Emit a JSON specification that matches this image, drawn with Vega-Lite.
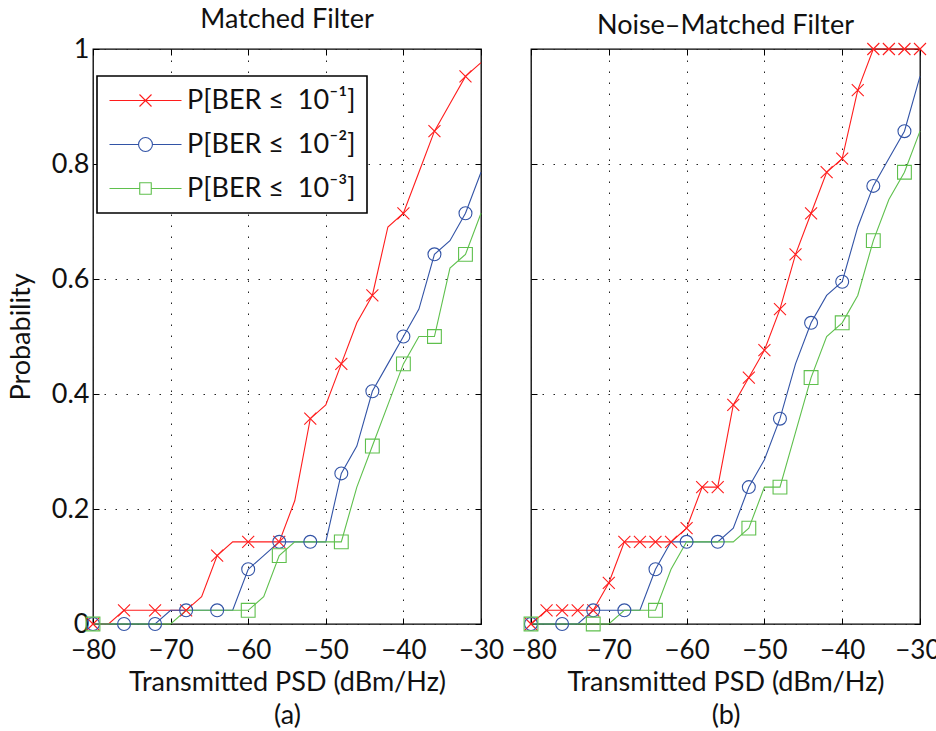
{
  "$schema": "https://vega.github.io/schema/vega-lite/v6.json",
  "background": "white",
  "padding": {"left": 6, "top": 5, "right": 2, "bottom": 3},
  "spacing": 50,
  "bounds": "flush",
  "datasets": {
    "series": [
      {"s": 1, "ber": "P[BER \u2264\u00a0 10\u207b\u00b9]"},
      {"s": 2, "ber": "P[BER \u2264\u00a0 10\u207b\u00b2]"},
      {"s": 3, "ber": "P[BER \u2264\u00a0 10\u207b\u00b3]"}
    ],
    "curves": [
      {"panel":"a","s":1,"psd":-80,"p":0},{"panel":"a","s":1,"psd":-78,"p":0},{"panel":"a","s":1,"psd":-76,"p":0.0238},{"panel":"a","s":1,"psd":-74,"p":0.0238},{"panel":"a","s":1,"psd":-72,"p":0.0238},{"panel":"a","s":1,"psd":-70,"p":0.0238},{"panel":"a","s":1,"psd":-68,"p":0.0238},{"panel":"a","s":1,"psd":-66,"p":0.0476},{"panel":"a","s":1,"psd":-64,"p":0.119},{"panel":"a","s":1,"psd":-62,"p":0.1429},{"panel":"a","s":1,"psd":-60,"p":0.1429},{"panel":"a","s":1,"psd":-58,"p":0.1429},{"panel":"a","s":1,"psd":-56,"p":0.1429},{"panel":"a","s":1,"psd":-54,"p":0.2143},{"panel":"a","s":1,"psd":-52,"p":0.3571},{"panel":"a","s":1,"psd":-50,"p":0.381},{"panel":"a","s":1,"psd":-48,"p":0.4524},{"panel":"a","s":1,"psd":-46,"p":0.5238},{"panel":"a","s":1,"psd":-44,"p":0.5714},{"panel":"a","s":1,"psd":-42,"p":0.6905},{"panel":"a","s":1,"psd":-40,"p":0.7143},{"panel":"a","s":1,"psd":-38,"p":0.7857},{"panel":"a","s":1,"psd":-36,"p":0.8571},{"panel":"a","s":1,"psd":-34,"p":0.9048},{"panel":"a","s":1,"psd":-32,"p":0.9524},{"panel":"a","s":1,"psd":-30,"p":0.9762},
      {"panel":"a","s":2,"psd":-80,"p":0},{"panel":"a","s":2,"psd":-78,"p":0},{"panel":"a","s":2,"psd":-76,"p":0},{"panel":"a","s":2,"psd":-74,"p":0},{"panel":"a","s":2,"psd":-72,"p":0},{"panel":"a","s":2,"psd":-70,"p":0.0238},{"panel":"a","s":2,"psd":-68,"p":0.0238},{"panel":"a","s":2,"psd":-66,"p":0.0238},{"panel":"a","s":2,"psd":-64,"p":0.0238},{"panel":"a","s":2,"psd":-62,"p":0.0238},{"panel":"a","s":2,"psd":-60,"p":0.0952},{"panel":"a","s":2,"psd":-58,"p":0.119},{"panel":"a","s":2,"psd":-56,"p":0.1429},{"panel":"a","s":2,"psd":-54,"p":0.1429},{"panel":"a","s":2,"psd":-52,"p":0.1429},{"panel":"a","s":2,"psd":-50,"p":0.1429},{"panel":"a","s":2,"psd":-48,"p":0.2619},{"panel":"a","s":2,"psd":-46,"p":0.3095},{"panel":"a","s":2,"psd":-44,"p":0.4048},{"panel":"a","s":2,"psd":-42,"p":0.4524},{"panel":"a","s":2,"psd":-40,"p":0.5},{"panel":"a","s":2,"psd":-38,"p":0.5476},{"panel":"a","s":2,"psd":-36,"p":0.6429},{"panel":"a","s":2,"psd":-34,"p":0.6667},{"panel":"a","s":2,"psd":-32,"p":0.7143},{"panel":"a","s":2,"psd":-30,"p":0.7857},
      {"panel":"a","s":3,"psd":-80,"p":0},{"panel":"a","s":3,"psd":-78,"p":0},{"panel":"a","s":3,"psd":-76,"p":0},{"panel":"a","s":3,"psd":-74,"p":0},{"panel":"a","s":3,"psd":-72,"p":0},{"panel":"a","s":3,"psd":-70,"p":0},{"panel":"a","s":3,"psd":-68,"p":0.0238},{"panel":"a","s":3,"psd":-66,"p":0.0238},{"panel":"a","s":3,"psd":-64,"p":0.0238},{"panel":"a","s":3,"psd":-62,"p":0.0238},{"panel":"a","s":3,"psd":-60,"p":0.0238},{"panel":"a","s":3,"psd":-58,"p":0.0476},{"panel":"a","s":3,"psd":-56,"p":0.119},{"panel":"a","s":3,"psd":-54,"p":0.1429},{"panel":"a","s":3,"psd":-52,"p":0.1429},{"panel":"a","s":3,"psd":-50,"p":0.1429},{"panel":"a","s":3,"psd":-48,"p":0.1429},{"panel":"a","s":3,"psd":-46,"p":0.2381},{"panel":"a","s":3,"psd":-44,"p":0.3095},{"panel":"a","s":3,"psd":-42,"p":0.381},{"panel":"a","s":3,"psd":-40,"p":0.4524},{"panel":"a","s":3,"psd":-38,"p":0.5},{"panel":"a","s":3,"psd":-36,"p":0.5},{"panel":"a","s":3,"psd":-34,"p":0.619},{"panel":"a","s":3,"psd":-32,"p":0.6429},{"panel":"a","s":3,"psd":-30,"p":0.7143},
      {"panel":"b","s":1,"psd":-80,"p":0},{"panel":"b","s":1,"psd":-78,"p":0.0238},{"panel":"b","s":1,"psd":-76,"p":0.0238},{"panel":"b","s":1,"psd":-74,"p":0.0238},{"panel":"b","s":1,"psd":-72,"p":0.0238},{"panel":"b","s":1,"psd":-70,"p":0.0714},{"panel":"b","s":1,"psd":-68,"p":0.1429},{"panel":"b","s":1,"psd":-66,"p":0.1429},{"panel":"b","s":1,"psd":-64,"p":0.1429},{"panel":"b","s":1,"psd":-62,"p":0.1429},{"panel":"b","s":1,"psd":-60,"p":0.1667},{"panel":"b","s":1,"psd":-58,"p":0.2381},{"panel":"b","s":1,"psd":-56,"p":0.2381},{"panel":"b","s":1,"psd":-54,"p":0.381},{"panel":"b","s":1,"psd":-52,"p":0.4286},{"panel":"b","s":1,"psd":-50,"p":0.4762},{"panel":"b","s":1,"psd":-48,"p":0.5476},{"panel":"b","s":1,"psd":-46,"p":0.6429},{"panel":"b","s":1,"psd":-44,"p":0.7143},{"panel":"b","s":1,"psd":-42,"p":0.7857},{"panel":"b","s":1,"psd":-40,"p":0.8095},{"panel":"b","s":1,"psd":-38,"p":0.9286},{"panel":"b","s":1,"psd":-36,"p":1},{"panel":"b","s":1,"psd":-34,"p":1},{"panel":"b","s":1,"psd":-32,"p":1},{"panel":"b","s":1,"psd":-30,"p":1},
      {"panel":"b","s":2,"psd":-80,"p":0},{"panel":"b","s":2,"psd":-78,"p":0},{"panel":"b","s":2,"psd":-76,"p":0},{"panel":"b","s":2,"psd":-74,"p":0},{"panel":"b","s":2,"psd":-72,"p":0.0238},{"panel":"b","s":2,"psd":-70,"p":0.0238},{"panel":"b","s":2,"psd":-68,"p":0.0238},{"panel":"b","s":2,"psd":-66,"p":0.0238},{"panel":"b","s":2,"psd":-64,"p":0.0952},{"panel":"b","s":2,"psd":-62,"p":0.1429},{"panel":"b","s":2,"psd":-60,"p":0.1429},{"panel":"b","s":2,"psd":-58,"p":0.1429},{"panel":"b","s":2,"psd":-56,"p":0.1429},{"panel":"b","s":2,"psd":-54,"p":0.1667},{"panel":"b","s":2,"psd":-52,"p":0.2381},{"panel":"b","s":2,"psd":-50,"p":0.2857},{"panel":"b","s":2,"psd":-48,"p":0.3571},{"panel":"b","s":2,"psd":-46,"p":0.4524},{"panel":"b","s":2,"psd":-44,"p":0.5238},{"panel":"b","s":2,"psd":-42,"p":0.5714},{"panel":"b","s":2,"psd":-40,"p":0.5952},{"panel":"b","s":2,"psd":-38,"p":0.6905},{"panel":"b","s":2,"psd":-36,"p":0.7619},{"panel":"b","s":2,"psd":-34,"p":0.8095},{"panel":"b","s":2,"psd":-32,"p":0.8571},{"panel":"b","s":2,"psd":-30,"p":0.9524},
      {"panel":"b","s":3,"psd":-80,"p":0},{"panel":"b","s":3,"psd":-78,"p":0},{"panel":"b","s":3,"psd":-76,"p":0},{"panel":"b","s":3,"psd":-74,"p":0},{"panel":"b","s":3,"psd":-72,"p":0},{"panel":"b","s":3,"psd":-70,"p":0},{"panel":"b","s":3,"psd":-68,"p":0.0238},{"panel":"b","s":3,"psd":-66,"p":0.0238},{"panel":"b","s":3,"psd":-64,"p":0.0238},{"panel":"b","s":3,"psd":-62,"p":0.0952},{"panel":"b","s":3,"psd":-60,"p":0.1429},{"panel":"b","s":3,"psd":-58,"p":0.1429},{"panel":"b","s":3,"psd":-56,"p":0.1429},{"panel":"b","s":3,"psd":-54,"p":0.1429},{"panel":"b","s":3,"psd":-52,"p":0.1667},{"panel":"b","s":3,"psd":-50,"p":0.2381},{"panel":"b","s":3,"psd":-48,"p":0.2381},{"panel":"b","s":3,"psd":-46,"p":0.3333},{"panel":"b","s":3,"psd":-44,"p":0.4286},{"panel":"b","s":3,"psd":-42,"p":0.5},{"panel":"b","s":3,"psd":-40,"p":0.5238},{"panel":"b","s":3,"psd":-38,"p":0.5714},{"panel":"b","s":3,"psd":-36,"p":0.6667},{"panel":"b","s":3,"psd":-34,"p":0.7381},{"panel":"b","s":3,"psd":-32,"p":0.7857},{"panel":"b","s":3,"psd":-30,"p":0.8571}
    ],
    "markers": [
      {"panel":"a","s":1,"psd":-80,"p":0},{"panel":"a","s":1,"psd":-76,"p":0.0238},{"panel":"a","s":1,"psd":-72,"p":0.0238},{"panel":"a","s":1,"psd":-68,"p":0.0238},{"panel":"a","s":1,"psd":-64,"p":0.119},{"panel":"a","s":1,"psd":-60,"p":0.1429},{"panel":"a","s":1,"psd":-56,"p":0.1429},{"panel":"a","s":1,"psd":-52,"p":0.3571},{"panel":"a","s":1,"psd":-48,"p":0.4524},{"panel":"a","s":1,"psd":-44,"p":0.5714},{"panel":"a","s":1,"psd":-40,"p":0.7143},{"panel":"a","s":1,"psd":-36,"p":0.8571},{"panel":"a","s":1,"psd":-32,"p":0.9524},
      {"panel":"a","s":2,"psd":-80,"p":0},{"panel":"a","s":2,"psd":-76,"p":0},{"panel":"a","s":2,"psd":-72,"p":0},{"panel":"a","s":2,"psd":-68,"p":0.0238},{"panel":"a","s":2,"psd":-64,"p":0.0238},{"panel":"a","s":2,"psd":-60,"p":0.0952},{"panel":"a","s":2,"psd":-56,"p":0.1429},{"panel":"a","s":2,"psd":-52,"p":0.1429},{"panel":"a","s":2,"psd":-48,"p":0.2619},{"panel":"a","s":2,"psd":-44,"p":0.4048},{"panel":"a","s":2,"psd":-40,"p":0.5},{"panel":"a","s":2,"psd":-36,"p":0.6429},{"panel":"a","s":2,"psd":-32,"p":0.7143},
      {"panel":"a","s":3,"psd":-80,"p":0},{"panel":"a","s":3,"psd":-60,"p":0.0238},{"panel":"a","s":3,"psd":-56,"p":0.119},{"panel":"a","s":3,"psd":-48,"p":0.1429},{"panel":"a","s":3,"psd":-44,"p":0.3095},{"panel":"a","s":3,"psd":-40,"p":0.4524},{"panel":"a","s":3,"psd":-36,"p":0.5},{"panel":"a","s":3,"psd":-32,"p":0.6429},
      {"panel":"b","s":1,"psd":-80,"p":0},{"panel":"b","s":1,"psd":-78,"p":0.0238},{"panel":"b","s":1,"psd":-76,"p":0.0238},{"panel":"b","s":1,"psd":-74,"p":0.0238},{"panel":"b","s":1,"psd":-72,"p":0.0238},{"panel":"b","s":1,"psd":-70,"p":0.0714},{"panel":"b","s":1,"psd":-68,"p":0.1429},{"panel":"b","s":1,"psd":-66,"p":0.1429},{"panel":"b","s":1,"psd":-64,"p":0.1429},{"panel":"b","s":1,"psd":-62,"p":0.1429},{"panel":"b","s":1,"psd":-60,"p":0.1667},{"panel":"b","s":1,"psd":-58,"p":0.2381},{"panel":"b","s":1,"psd":-56,"p":0.2381},{"panel":"b","s":1,"psd":-54,"p":0.381},{"panel":"b","s":1,"psd":-52,"p":0.4286},{"panel":"b","s":1,"psd":-50,"p":0.4762},{"panel":"b","s":1,"psd":-48,"p":0.5476},{"panel":"b","s":1,"psd":-46,"p":0.6429},{"panel":"b","s":1,"psd":-44,"p":0.7143},{"panel":"b","s":1,"psd":-42,"p":0.7857},{"panel":"b","s":1,"psd":-40,"p":0.8095},{"panel":"b","s":1,"psd":-38,"p":0.9286},{"panel":"b","s":1,"psd":-36,"p":1},{"panel":"b","s":1,"psd":-34,"p":1},{"panel":"b","s":1,"psd":-32,"p":1},{"panel":"b","s":1,"psd":-30,"p":1},
      {"panel":"b","s":2,"psd":-80,"p":0},{"panel":"b","s":2,"psd":-76,"p":0},{"panel":"b","s":2,"psd":-72,"p":0.0238},{"panel":"b","s":2,"psd":-68,"p":0.0238},{"panel":"b","s":2,"psd":-64,"p":0.0952},{"panel":"b","s":2,"psd":-60,"p":0.1429},{"panel":"b","s":2,"psd":-56,"p":0.1429},{"panel":"b","s":2,"psd":-52,"p":0.2381},{"panel":"b","s":2,"psd":-48,"p":0.3571},{"panel":"b","s":2,"psd":-44,"p":0.5238},{"panel":"b","s":2,"psd":-40,"p":0.5952},{"panel":"b","s":2,"psd":-36,"p":0.7619},{"panel":"b","s":2,"psd":-32,"p":0.8571},
      {"panel":"b","s":3,"psd":-80,"p":0},{"panel":"b","s":3,"psd":-72,"p":0},{"panel":"b","s":3,"psd":-64,"p":0.0238},{"panel":"b","s":3,"psd":-52,"p":0.1667},{"panel":"b","s":3,"psd":-48,"p":0.2381},{"panel":"b","s":3,"psd":-44,"p":0.4286},{"panel":"b","s":3,"psd":-40,"p":0.5238},{"panel":"b","s":3,"psd":-36,"p":0.6667},{"panel":"b","s":3,"psd":-32,"p":0.7857}
    ]
  },
  "hconcat": [
    {
      "width": 388,
      "height": 575,
      "title": {"text": "Matched Filter"},
      "resolve": {"axis": {"x": "independent", "y": "independent"}},
      "layer": [
        {
          "data": {"name": "curves"},
          "transform": [
            {"filter": "datum.panel === 'a'"},
            {"lookup": "s", "from": {"data": {"name": "series"}, "key": "s", "fields": ["ber"]}}
          ],
          "mark": {"type": "line", "strokeWidth": 1.1},
          "encoding": {
            "x": {"field": "psd", "type": "quantitative", "scale": {"domain": [-80, -30], "nice": false, "zero": false},
                  "axis": {"orient": "bottom", "values": [-80, -70, -60, -50, -40, -30], "grid": true, "labelFontSize": 26, "labelPadding": 19, "labelDx": -10, "titlePadding": 6, "title": ["Transmitted PSD (dBm/Hz)", "(a)"]}},
            "y": {"field": "p", "type": "quantitative", "scale": {"domain": [0, 1], "nice": false},
                  "axis": {"orient": "left", "values": [0, 0.2, 0.4, 0.6, 0.8, 1], "format": "~g", "grid": true, "labelFontSize": 27, "labelPadding": 10, "titlePadding": 16, "title": "Probability"}},
            "color": {"field": "ber", "type": "nominal",
                      "scale": {"domain": ["P[BER \u2264\u00a0 10\u207b\u00b9]", "P[BER \u2264\u00a0 10\u207b\u00b2]", "P[BER \u2264\u00a0 10\u207b\u00b3]"], "range": ["#ff1c1c", "#3253a6", "#5fc04d"]},
                      "legend": {
                        "orient": "none", "legendX": 4, "legendY": 27, "title": null,
                        "symbolSize": 576, "symbolOffset": 24, "labelOffset": 28,
                        "labelFontSize": 27, "labelFont": "Lato", "labelColor": "#111", "labelLimit": 400,
                        "rowPadding": 16, "padding": 11, "fillColor": "white", "strokeColor": "black",
                        "symbolStrokeWidth": 1.1,
                        "encode": {
                          "legend": {"update": {"strokeWidth": {"value": 1.6}}},
                          "symbols": {"update": {
                            "shape": {"signal": "indexof(datum.value, '\u00b9') >= 0 ? 'M-3,0H3M-0.5,-0.5L0.5,0.5M-0.5,0.5L0.5,-0.5' : indexof(datum.value, '\u00b2') >= 0 ? 'M-3,0H-0.58A0.58,0.58,0,1,1,0.58,0A0.58,0.58,0,1,1,-0.58,0M0.58,0H3' : 'M-3,0H-0.48M0.48,0H3M-0.48,-0.48H0.48V0.48H-0.48Z'"},
                            "fill": {"value": "transparent"},
                            "strokeWidth": {"value": 1.1}
                          }}
                        }
                      }}
          }
        },
        {
          "data": {"name": "markers"},
          "transform": [
            {"filter": "datum.panel === 'a'"},
            {"lookup": "s", "from": {"data": {"name": "series"}, "key": "s", "fields": ["ber"]}}
          ],
          "mark": {"type": "point", "filled": false, "strokeWidth": 1.1, "opacity": 1},
          "encoding": {
            "x": {"field": "psd", "type": "quantitative", "axis": {"orient": "top", "values": [-80, -70, -60, -50, -40, -30], "labels": false, "title": null, "grid": false}},
            "y": {"field": "p", "type": "quantitative", "axis": {"orient": "right", "values": [0, 0.2, 0.4, 0.6, 0.8, 1], "labels": false, "title": null, "grid": false}},
            "color": {"field": "ber", "type": "nominal", "legend": null},
            "shape": {"field": "s", "type": "nominal", "scale": {"domain": [1, 2, 3], "range": ["M-1,-1L1,1M-1,1L1,-1", "circle", "square"]}, "legend": null},
            "size": {"field": "s", "type": "nominal", "scale": {"domain": [1, 2, 3], "range": [144, 190, 130]}, "legend": null}
          }
        }
      ]
    },
    {
      "width": 389,
      "height": 575,
      "title": {"text": "Noise\u2013Matched Filter"},
      "resolve": {"axis": {"x": "independent", "y": "independent"}},
      "layer": [
        {
          "data": {"name": "curves"},
          "transform": [
            {"filter": "datum.panel === 'b'"},
            {"lookup": "s", "from": {"data": {"name": "series"}, "key": "s", "fields": ["ber"]}}
          ],
          "mark": {"type": "line", "strokeWidth": 1.1},
          "encoding": {
            "x": {"field": "psd", "type": "quantitative", "scale": {"domain": [-80, -30], "nice": false, "zero": false},
                  "axis": {"orient": "bottom", "values": [-80, -70, -60, -50, -40, -30], "grid": true, "labelFontSize": 26, "labelPadding": 19, "labelDx": -10, "labelFlush": true, "labelFlushOffset": 20, "titlePadding": 6, "title": ["Transmitted PSD (dBm/Hz)", "(b)"]}},
            "y": {"field": "p", "type": "quantitative", "scale": {"domain": [0, 1], "nice": false},
                  "axis": {"orient": "left", "values": [0, 0.2, 0.4, 0.6, 0.8, 1], "labels": false, "grid": true, "title": null}},
            "color": {"field": "ber", "type": "nominal", "legend": null}
          }
        },
        {
          "data": {"name": "markers"},
          "transform": [
            {"filter": "datum.panel === 'b'"},
            {"lookup": "s", "from": {"data": {"name": "series"}, "key": "s", "fields": ["ber"]}}
          ],
          "mark": {"type": "point", "filled": false, "strokeWidth": 1.1, "opacity": 1},
          "encoding": {
            "x": {"field": "psd", "type": "quantitative", "axis": {"orient": "top", "values": [-80, -70, -60, -50, -40, -30], "labels": false, "title": null, "grid": false}},
            "y": {"field": "p", "type": "quantitative", "axis": {"orient": "right", "values": [0, 0.2, 0.4, 0.6, 0.8, 1], "labels": false, "title": null, "grid": false}},
            "color": {"field": "ber", "type": "nominal", "legend": null},
            "shape": {"field": "s", "type": "nominal", "legend": null},
            "size": {"field": "s", "type": "nominal", "legend": null}
          }
        }
      ]
    }
  ],
  "config": {
    "font": "Lato",
    "view": {"stroke": "black", "strokeWidth": 1.3},
    "title": {"fontSize": 27, "fontWeight": "normal", "color": "#111", "anchor": "middle", "offset": 1},
    "axis": {
      "labelFontSize": 27, "labelColor": "#111", "labelFlush": false, "labelOverlap": false,
      "titleFontSize": 27, "titleFontWeight": "normal", "titleColor": "#111",
      "tickColor": "black", "tickSize": -6, "tickWidth": 1, "domain": false,
      "gridColor": "#222", "gridDash": [1.5, 9.5], "gridOpacity": 1, "gridWidth": 1,
      "labelPadding": 8, "titleLineHeight": 33, "titlePadding": 2
    }
  }
}
